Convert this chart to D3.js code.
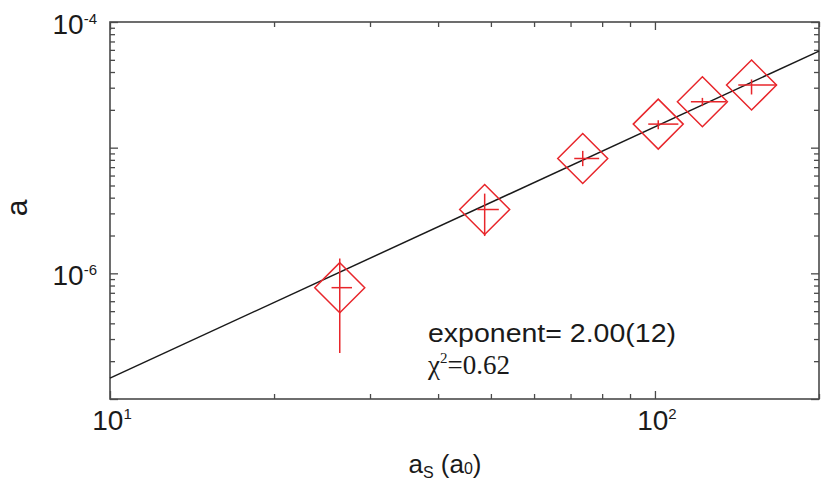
<!DOCTYPE html>
<html>
<head>
<meta charset="utf-8">
<script src="https://cdn.jsdelivr.net/npm/d3@7"></script>
<style>
  body { margin: 0; background: #fff; }
  svg { display: block; }
  .serif, .serif tspan { font-family: "Liberation Serif", "DejaVu Serif", serif; }
</style>
</head>
<body>
<svg id="chart" width="830" height="489"></svg>
<script>
// ---- data ----
const xVals = [26.4, 48.7, 73.7, 101.4, 122.2, 150.4];
const xLo   = [25.5, 47.2, 71.1, 97.2, 116.4, 142.2];
const xHi   = [27.8, 51.7, 79.0, 110.4, 135.0, 167.2];
const yVals = [7.69e-7, 3.22e-6, 8.20e-6, 1.54e-5, 2.32e-5, 3.15e-5];
const yLo   = [2.32e-7, 1.98e-6, 7.13e-6, 1.404e-5, 2.14e-5, 2.65e-5];
const yHi   = [1.31e-6, 4.31e-6, 9.43e-6, 1.656e-5, 2.49e-5, 3.49e-5];
const fitAmp = 1.466e-9;
const fitExp = 2.0;
const xDomain = [10, 200];
const yDomain = [1e-7, 1e-4];
const xMajor = [10, 100];
const xMinor = [20, 30, 40, 50, 60, 70, 80, 90, 200];
const yMajor = [1e-7, 1e-6, 1e-5, 1e-4];
const yMinor = [2e-7,3e-7,4e-7,5e-7,6e-7,7e-7,8e-7,9e-7,
                2e-6,3e-6,4e-6,5e-6,6e-6,7e-6,8e-6,9e-6,
                2e-5,3e-5,4e-5,5e-5,6e-5,7e-5,8e-5,9e-5];
const xTickLabels = [{v: 10, base: "10", exp: "1"}, {v: 100, base: "10", exp: "2"}];
const yTickLabels = [{v: 1e-4, base: "10", exp: "-4"}, {v: 1e-6, base: "10", exp: "-6"}];

// ---- layout ----
const L = 110, R = 819, T = 22, B = 399;
const svg = d3.select("#chart");
const x = d3.scaleLog().domain(xDomain).range([L, R]);
const y = d3.scaleLog().domain(yDomain).range([B, T]);
const axisColor = "#4a4a4a";
const red = "#e8262b";
const txt = "#1a1a1a";

function ticks(gen, transform, vals, size) {
  const g = svg.append("g").attr("transform", transform)
    .call(gen.tickValues(vals).tickSize(size).tickSizeOuter(0).tickFormat(""));
  g.select(".domain").remove();
  g.selectAll("line").attr("stroke", axisColor).attr("stroke-width", 1.3);
}
ticks(d3.axisBottom(x), `translate(0,${B})`, xMajor, -8);
ticks(d3.axisBottom(x), `translate(0,${B})`, xMinor, -5);
ticks(d3.axisTop(x), `translate(0,${T})`, xMajor, -8);
ticks(d3.axisTop(x), `translate(0,${T})`, xMinor, -5);
ticks(d3.axisLeft(y), `translate(${L},0)`, yMajor, -8);
ticks(d3.axisLeft(y), `translate(${L},0)`, yMinor, -5);
ticks(d3.axisRight(y), `translate(${R},0)`, yMajor, -8);
ticks(d3.axisRight(y), `translate(${R},0)`, yMinor, -5);

// frame
svg.append("rect").attr("x", L).attr("y", T).attr("width", R - L).attr("height", B - T)
  .attr("fill", "none").attr("stroke", axisColor).attr("stroke-width", 1.6);

// tick labels
const font = "'Liberation Sans', Arial, sans-serif";
xTickLabels.forEach(d => {
  const t = svg.append("text").attr("x", x(d.v) + 2).attr("y", 430)
    .attr("text-anchor", "middle").attr("font-family", font).attr("fill", txt);
  t.append("tspan").attr("font-size", 28).text(d.base);
  t.append("tspan").attr("font-size", 15).attr("dy", -11).text(d.exp);
});
yTickLabels.forEach(d => {
  const t = svg.append("text").attr("x", 97).attr("y", y(d.v) + 12)
    .attr("text-anchor", "end").attr("font-family", font).attr("fill", txt);
  t.append("tspan").attr("font-size", 28).text(d.base);
  t.append("tspan").attr("font-size", 15).attr("dy", -10).text(d.exp);
});

// axis titles
const xt = svg.append("text").attr("x", 445).attr("y", 473).attr("text-anchor", "middle")
  .attr("font-family", font).attr("fill", txt);
xt.append("tspan").attr("font-size", 26).text("a");
xt.append("tspan").attr("font-size", 16).attr("dy", 5).text("S");
xt.append("tspan").attr("font-size", 26).attr("dy", -5).text(" (a");
xt.append("tspan").attr("font-size", 16).attr("dy", 1).text("0");
xt.append("tspan").attr("font-size", 26).attr("dy", -1).text(")");

svg.append("text").attr("transform", "translate(27,208) rotate(-90)")
  .attr("text-anchor", "middle").attr("font-family", font).attr("font-size", 30)
  .attr("fill", txt).text("a");

// fit line
const lineX = xDomain;
svg.append("path")
  .attr("d", d3.line().x(d => x(d)).y(d => y(fitAmp * Math.pow(d, fitExp)))(lineX))
  .attr("fill", "none").attr("stroke", "#1a1a1a").attr("stroke-width", 1.5);

// data points
const pts = xVals.map((v, i) => ({x: v, y: yVals[i], xl: xLo[i], xh: xHi[i], yl: yLo[i], yh: yHi[i]}));
const gp = svg.append("g");
pts.forEach(d => {
  const cx = x(d.x), cy = y(d.y), h = 25;
  gp.append("path")
    .attr("d", `M${cx},${cy - h}L${cx + h},${cy}L${cx},${cy + h}L${cx - h},${cy}Z`)
    .attr("fill", "none").attr("stroke", red).attr("stroke-width", 1.5);
  gp.append("line").attr("x1", cx).attr("x2", cx).attr("y1", y(d.yl)).attr("y2", y(d.yh))
    .attr("stroke", red).attr("stroke-width", 1.5);
  gp.append("line").attr("x1", x(d.xl)).attr("x2", x(d.xh)).attr("y1", cy).attr("y2", cy)
    .attr("stroke", red).attr("stroke-width", 1.5);
});

// annotations
svg.append("text").attr("x", 428).attr("y", 342).attr("font-family", font)
  .attr("font-size", 26).attr("fill", txt)
  .attr("textLength", 248).attr("lengthAdjust", "spacingAndGlyphs")
  .text("exponent= 2.00(12)");
const chi = svg.append("text").attr("class", "serif").attr("x", 428).attr("y", 374)
  .attr("fill", txt);
chi.append("tspan").attr("font-size", 27).text("χ");
chi.append("tspan").attr("font-size", 15).attr("dy", -11).text("2");
chi.append("tspan").attr("font-size", 27).attr("dy", 11).text("=0.62");
</script>
</body>
</html>
